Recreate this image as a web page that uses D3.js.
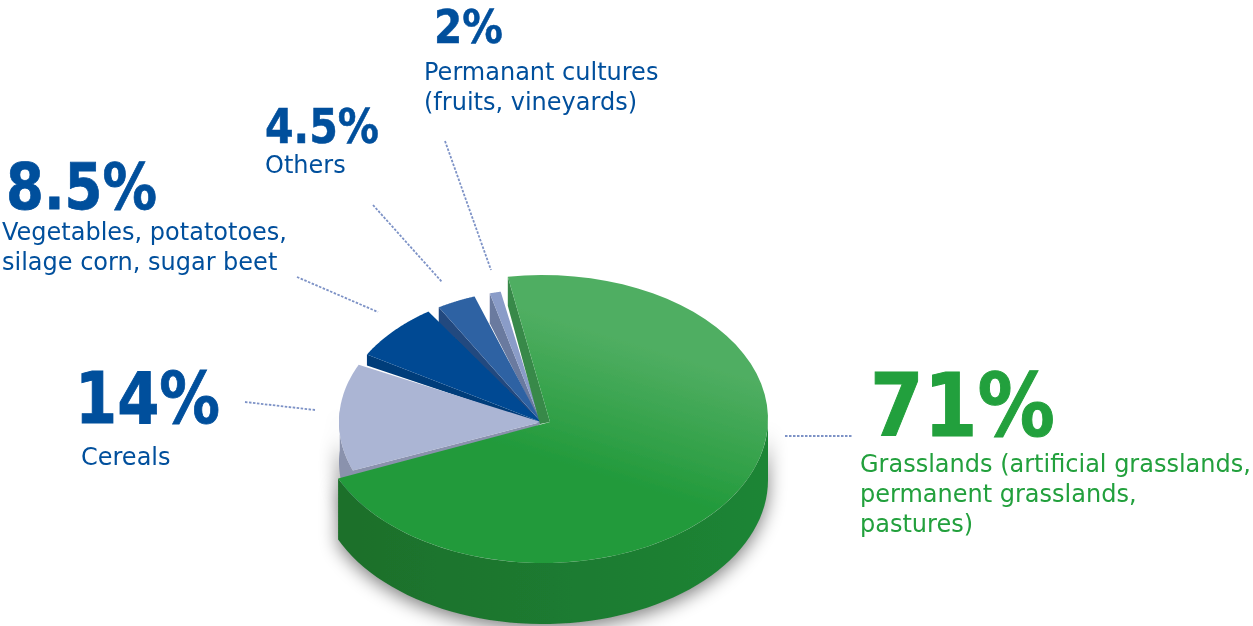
<!DOCTYPE html>
<html><head><meta charset="utf-8">
<script src="https://cdn.jsdelivr.net/npm/d3@7"></script>
<style>html,body{margin:0;background:#fff;overflow:hidden}svg{display:block}</style>
</head><body><svg id="c" width="1253" height="626"></svg>
<script>
// data
const categories = ["Grasslands","Cereals","Vegetables","Others","Permanent cultures"];
const shares = [71,14,8.5,4.5,2];
const pctLabels = ["71%","14%","8.5%","4.5%","2%"];
const descLines = [
  ["Grasslands (artificial grasslands,","permanent grasslands,","pastures)"],
  ["Cereals"],
  ["Vegetables, potatotoes,","silage corn, sugar beet"],
  ["Others"],
  ["Permanant cultures","(fruits, vineyards)"]
];
// style / layout
const topColors = ["url(#gTop)","#abb5d4","#004a93","#2f62a3","#8a9cc8"];
const cutColors = ["#38894a","#8a92ad","#033c7a","#24497f","#6b7a9f"];
const cutDepth = [29,40,11,16,30];
const insetStart = [0,2,3.5,2,1.5];
const insetEnd = [1,1.5,1.5,3,2.5];
const pctPos = [[870,436,88],[75,423,71],[6,209,64],[265,143,48],[434,43,47]];
const pctWidth = [185,145,151,114,69];
const descPos = [[860,472],[81,465],[2,240],[265,173],[424,80]];
const lineHeight = 30;
const leaders = [[[785,436],[853,436]],[[245,402],[315,410]],[[297,277],[378,312]],[[373,205],[442,282]],[[445,141],[491,270]]];

const svg = d3.select("#c");
const defs = svg.append("defs");
const gt = defs.append("linearGradient").attr("id","gTop").attr("gradientUnits","userSpaceOnUse")
  .attr("x1",640).attr("y1",345).attr("x2",600).attr("y2",475);
gt.append("stop").attr("offset",0).attr("stop-color","#50ae62");
gt.append("stop").attr("offset",1).attr("stop-color","#229a3b");
const gw = defs.append("linearGradient").attr("id","gWall").attr("gradientUnits","userSpaceOnUse")
  .attr("x1",340).attr("y1",0).attr("x2",768).attr("y2",0);
gw.append("stop").attr("offset",0).attr("stop-color","#1b6f2b");
gw.append("stop").attr("offset",1).attr("stop-color","#1e8535");
defs.append("filter").attr("id","blur").attr("filterUnits","userSpaceOnUse")
  .attr("x",0).attr("y",200).attr("width",1253).attr("height",426)
  .append("feGaussianBlur").attr("stdDeviation",9);
defs.append("filter").attr("id","soft").attr("filterUnits","userSpaceOnUse")
  .attr("x",0).attr("y",0).attr("width",1253).attr("height",626)
  .append("feGaussianBlur").attr("stdDeviation",0.45);

const G = {cx:543,cy:419,rx:225,ry:144,ax:550,ay:422,depth:61};
const B = {cx:541,cy:422,rx:202,ry:133};
const toRad = d3.scaleLinear().domain([0,180]).range([0,Math.PI]);
const arcs = d3.pie().sort(null).value(d=>d).startAngle(toRad(-9)).endAngle(toRad(351))(shares);
const pt = (e,a)=>[e.cx+e.rx*Math.sin(a), e.cy-e.ry*Math.cos(a)];
const sweep = (e,a0,a1)=>d3.range(0,61).map(i=>pt(e,a0+(a1-a0)*i/60));
const line = d3.line();
const down = (p,d)=>[p[0],p[1]+d];

const g = svg.append("g").attr("filter","url(#soft)");

const a0 = arcs[0].startAngle, a1 = arcs[0].endAngle-toRad(insetEnd[0]);
const frontTop = sweep(G,toRad(90),a1);
const wallPts = frontTop.concat(frontTop.map(p=>down(p,G.depth)).reverse());

// soft shadow
g.append("path").attr("d",line(wallPts)+"Z").attr("fill","#000").attr("opacity",.5)
  .attr("filter","url(#blur)").attr("transform","translate(0,5)");
const lc = sweep(B,toRad(240),toRad(275));
g.append("path").attr("d",line(lc.concat(lc.map(p=>down(p,45)).reverse()))+"Z").attr("fill","#000").attr("opacity",.4)
  .attr("filter","url(#blur)").attr("transform","translate(-2,0)");

// smaller slices, back to front
[4,3,2,1].forEach(i=>{
  const s = arcs[i].startAngle+toRad(insetStart[i]), e = arcs[i].endAngle-toRad(insetEnd[i]);
  const rim = sweep(B,s,e);
  const apex = [B.cx,B.cy];
  if(i===1){
    const outer = sweep(B,toRad(240),toRad(275));
    g.append("path").attr("d",line(outer.concat(outer.map(p=>down(p,cutDepth[i])).reverse()))+"Z").attr("fill",cutColors[i]);
  }
  g.append("path").attr("d",line([rim[0],down(rim[0],cutDepth[i]),down(apex,2),apex])+"Z").attr("fill",cutColors[i]);
  g.append("path").attr("d",line([apex].concat(rim))+"Z").attr("fill",topColors[i]);
});

// green slice
const startPt = pt(G,a0);
g.append("path").attr("d",line([startPt,down(startPt,cutDepth[0]),[G.ax-10,G.ay+2],[G.ax,G.ay]])+"Z").attr("fill",cutColors[0]);
g.append("path").attr("d",line(wallPts)+"Z").attr("fill","url(#gWall)");
g.append("path").attr("d",line([[G.ax,G.ay]].concat(sweep(G,a0,a1)))+"Z").attr("fill",topColors[0]);

// leaders
g.selectAll("path.leader").data(leaders).join("path").attr("class","leader")
  .attr("d",d=>line(d)).attr("fill","none").attr("stroke","#7d92c6")
  .attr("stroke-width",1.8).attr("stroke-dasharray","2.5 1.5");

// labels
const color = i=> i===0 ? "#22a03c" : "#004f9c";
const t = g.append("g");
pctLabels.forEach((s,i)=>{
  t.append("text").attr("x",pctPos[i][0]).attr("y",pctPos[i][1])
    .attr("font-family","'DejaVu Sans'").attr("font-weight",700).attr("font-size",pctPos[i][2])
    .attr("textLength",pctWidth[i]).attr("lengthAdjust","spacingAndGlyphs")
    .attr("stroke",color(i)).attr("stroke-width",pctPos[i][2]*0.012)
    .attr("fill",color(i)).text(s);
  descLines[i].forEach((l,k)=>{
    t.append("text").attr("x",descPos[i][0]).attr("y",descPos[i][1]+k*lineHeight)
      .attr("font-family","'DejaVu Sans'").attr("font-size",24).attr("fill",color(i)).text(l);
  });
});
</script></body></html>
